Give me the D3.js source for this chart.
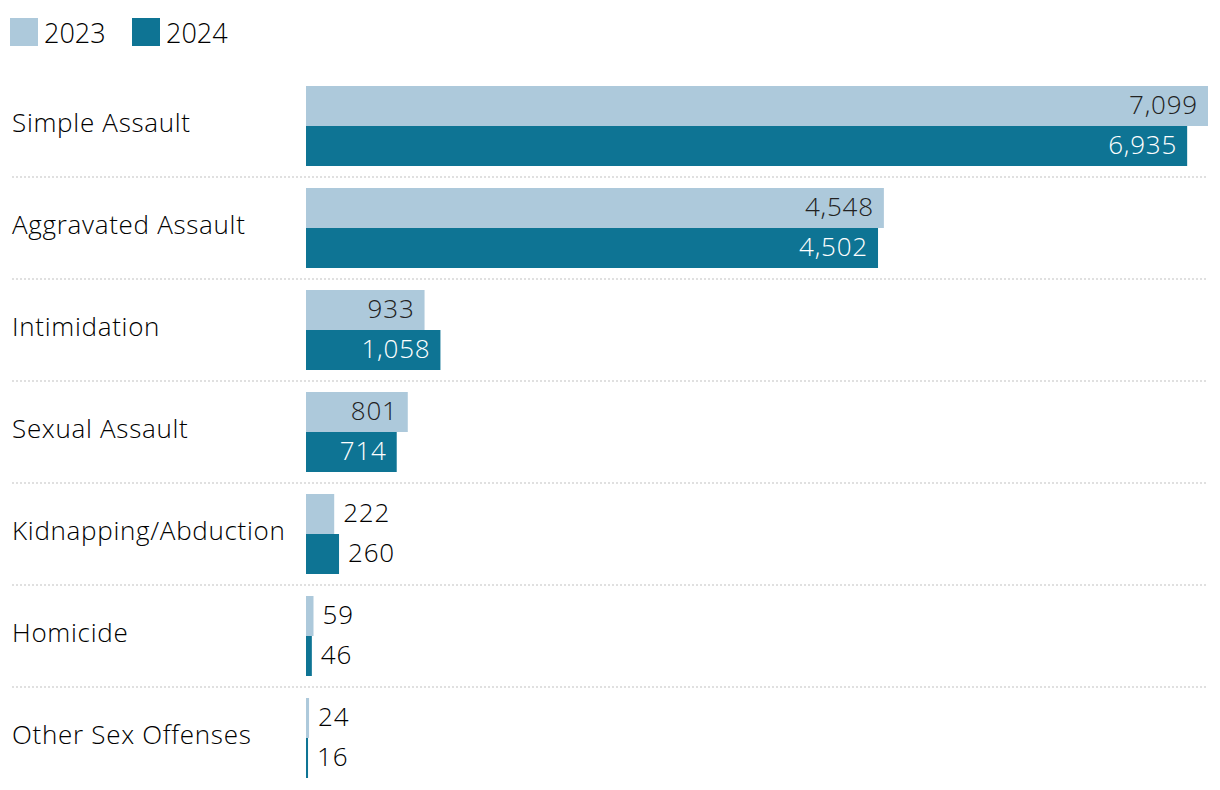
<!DOCTYPE html>
<html><head><meta charset="utf-8">
<script src="https://cdn.jsdelivr.net/npm/d3@7"></script>
<style>body{margin:0;background:#fff}svg{display:block}text{font-family:"Open Sans",Lato,sans-serif;font-weight:350}</style>
</head><body><svg id="c" width="1220" height="790"></svg>
<script>
const categories = ["Simple Assault","Aggravated Assault","Intimidation","Sexual Assault","Kidnapping/Abduction","Homicide","Other Sex Offenses"];
const years = ["2023","2024"];
const values2023 = [7099,4548,933,801,222,59,24];
const values2024 = [6935,4502,1058,714,260,46,16];
const colors = {"2023":"#adc9db","2024":"#0e7494"};

const svg = d3.select("#c");
const x = d3.scaleLinear().domain([0,7099]).range([306,1208]);
const y0 = d3.scaleBand().domain(categories).range([75,789]);
const y1 = d3.scaleBand().domain(years).range([11,91]);
const fmt = d3.format(",");

// legend
const lg = svg.append("g");
years.forEach((yr,i)=>{
  const gx = 10 + i*122;
  lg.append("rect").attr("x",gx).attr("y",18).attr("width",28).attr("height",28).attr("fill",colors[yr]);
  lg.append("text").attr("x",gx+34).attr("y",43).attr("font-size",27).attr("font-weight",400).attr("fill","#000").text(yr);
});

// separators
categories.slice(1).forEach(c=>{
  svg.append("line").attr("x1",12).attr("x2",1208).attr("y1",y0(c)).attr("y2",y0(c))
    .attr("stroke","#d6d6d6").attr("stroke-width",1.5).attr("stroke-dasharray","2,2");
});

categories.forEach((c,i)=>{
  const g = svg.append("g").attr("transform",`translate(0,${y0(c)})`);
  g.append("text").attr("x",12).attr("y",48).attr("dy","0.35em").attr("font-size",26).attr("letter-spacing",0.7).attr("fill","#000").text(c);
  const vals = {"2023":values2023[i],"2024":values2024[i]};
  years.forEach(yr=>{
    const v = vals[yr];
    const w = x(v)-x(0);
    const by = y1(yr);
    g.append("rect").attr("x",x(0)).attr("y",by).attr("width",w).attr("height",y1.bandwidth()).attr("fill",colors[yr]);
    const inside = w > 80;
    g.append("text")
      .attr("x", inside ? x(v)-10 : x(v)+9)
      .attr("y", by + y1.bandwidth()/2 - 1).attr("dy","0.35em")
      .attr("text-anchor", inside ? "end" : "start")
      .attr("font-size",26).attr("letter-spacing",0.8)
      .attr("fill", inside ? (yr==="2024" ? "#fff" : "#222") : "#000")
      .text(fmt(v));
  });
});
</script></body></html>
